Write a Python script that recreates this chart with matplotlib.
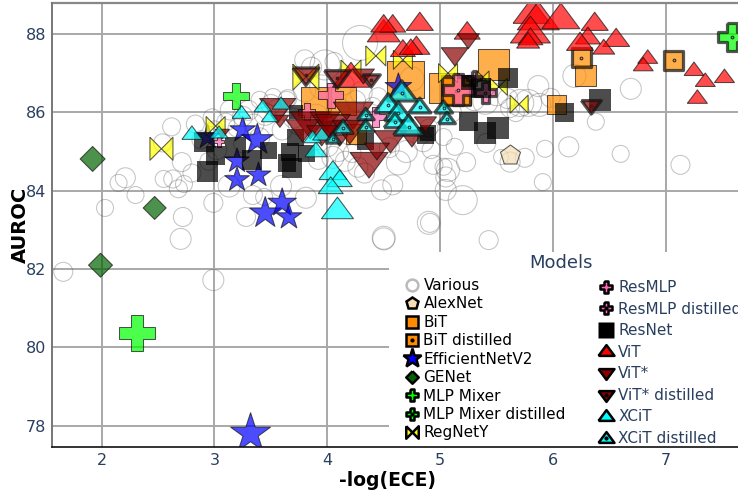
import matplotlib
matplotlib.use("Agg")
import matplotlib.pyplot as plt
from matplotlib.lines import Line2D
from matplotlib.legend_handler import HandlerTuple
from matplotlib.patches import Rectangle

# values: -log(ECE), AUROC, marker width
various_x = [2.03, 2.15, 2.21, 2.30, 2.62, 2.54, 2.55, 2.63, 2.68, 2.73, 2.71, 2.80, 2.83, 2.72, 2.70, 2.99, 3.28, 3.13, 3.34, 3.44,
             3.59, 3.81, 1.66, 2.99, 4.50, 4.29, 3.80, 3.98, 3.86, 4.06, 3.40, 3.52, 3.64, 3.14, 2.98, 2.88, 3.02, 2.95, 3.10, 3.25,
             5.87, 6.19, 6.69, 5.98, 5.88, 5.78, 5.71, 5.62, 5.67, 6.38, 5.40, 5.41, 5.93, 6.14, 6.60, 7.13, 5.91, 5.54, 5.75, 5.62,
             5.23, 4.94, 5.03, 5.07, 5.05, 5.13, 5.03, 4.92, 4.63, 4.48, 4.58, 5.05, 5.20, 4.90, 4.91, 4.50, 5.43,
             4.05, 4.16, 4.27, 4.33, 4.00, 4.10, 4.22, 3.92, 3.30, 3.45, 3.70, 3.55, 3.20, 3.35, 3.60, 3.75, 3.90, 4.10, 4.25, 4.40,
             4.55, 4.70, 4.85, 3.50, 3.65, 3.80, 3.95, 4.15, 4.30, 4.45, 4.75, 4.90, 5.10, 5.30, 5.50, 5.60, 3.25, 3.40, 3.00]
various_y = [83.56, 84.20, 84.33, 83.89, 85.63, 85.22, 84.30, 84.30, 84.05, 84.17, 84.73, 84.45, 85.70, 83.33, 82.77, 83.69, 83.33, 84.12, 83.89, 83.84,
             84.12, 83.82, 81.93, 81.72, 82.77, 87.77, 87.34, 87.21, 87.15, 87.30, 86.32, 86.39, 86.32, 86.06, 85.86, 85.30, 85.05, 84.75, 85.75, 85.90,
             86.67, 86.93, 86.60, 86.37, 86.19, 86.24, 86.24, 86.11, 85.98, 85.76, 86.27, 85.22, 85.07, 85.12, 84.94, 84.66, 84.22, 84.86, 84.84, 84.73,
             84.73, 84.66, 84.61, 84.53, 84.35, 85.12, 85.37, 85.05, 84.71, 84.02, 84.15, 84.02, 83.76, 83.18, 83.18, 82.80, 82.74,
             84.85, 84.75, 84.60, 84.45, 85.15, 85.00, 84.95, 84.80, 86.05, 85.95, 85.85, 86.10, 85.60, 85.70, 85.55, 85.70, 85.90, 86.10, 86.30, 86.15,
             85.10, 85.00, 85.25, 86.20, 86.35, 86.55, 86.65, 86.70, 86.50, 86.40, 86.85, 85.60, 86.00, 86.30, 86.45, 86.35, 85.20, 85.35, 85.55]
various_w = [17, 17, 20, 17, 18, 18, 17, 18, 18, 17, 19, 18, 18, 19, 21, 19, 19, 22, 19, 17,
             21, 21, 19, 21, 22, 35, 20, 30, 20, 18, 17, 17, 17, 20, 18, 18, 20, 18, 18, 20,
             21, 23, 21, 19, 23, 27, 27, 19, 17, 17, 25, 19, 17, 20, 17, 19, 17, 15, 19, 20,
             19, 19, 17, 23, 20, 17, 17, 18, 24, 20, 20, 21, 29, 23, 19, 23, 19,
             22, 20, 20, 20, 22, 20, 18, 20, 20, 22, 20, 18, 18, 20, 20, 22, 24, 22, 20, 18,
             20, 22, 20, 20, 18, 22, 24, 20, 22, 18, 24, 18, 20, 20, 22, 20, 18, 20, 18]

alexnet_x = [5.62]
alexnet_y = [84.91]
alexnet_w = [21]

bit_x = [5.47, 4.69, 5.03, 5.14, 6.03, 6.29, 3.90, 4.13, 4.25]
bit_y = [87.21, 86.83, 86.62, 86.57, 86.19, 86.95, 86.27, 86.30, 85.45]
bit_w = [31, 37, 30, 30, 19, 21, 30, 28, 20]

bit_dist_x = [6.25, 7.07, 5.14]
bit_dist_y = [87.39, 87.33, 86.55]
bit_dist_w = [19, 19, 28]

effnet_x = [3.25, 3.38, 3.20, 3.39, 3.20, 3.45, 3.60, 3.66, 2.94, 3.32, 4.63]
effnet_y = [85.55, 85.30, 84.76, 84.40, 84.28, 83.43, 83.69, 83.33, 85.37, 77.80, 86.65]
effnet_w = [27, 33, 26, 26, 26, 33, 30, 27, 26, 42, 28]

genet_x = [1.92, 2.47, 1.99]
genet_y = [84.81, 83.56, 82.10]
genet_w = [25, 23, 24]

mixer_x = [2.31, 3.19]
mixer_y = [80.37, 86.42]
mixer_w = [36, 26]

mixer_dist_x = [7.59]
mixer_dist_y = [87.91]
mixer_dist_w = [28]

regnet_x = [2.53, 3.01, 3.81, 4.21, 4.43, 4.67, 5.07, 5.38, 5.52, 5.70]
regnet_y = [85.07, 85.65, 86.90, 87.08, 87.44, 87.34, 87.00, 86.90, 86.65, 86.21]
regnet_w = [23, 19, 26, 20, 20, 19, 19, 12, 17, 18]

resmlp_x = [3.82, 4.03, 4.43, 3.04]
resmlp_y = [86.01, 86.44, 85.88, 85.25]
resmlp_w = [17, 25, 20, 10]

resmlp_dist_x = [5.16, 5.40, 5.30]
resmlp_dist_y = [86.57, 86.50, 86.88]
resmlp_dist_w = [31, 21, 14]

resnet_x = [5.60, 5.25, 5.40, 5.51, 6.42, 6.10, 5.36, 5.25, 4.87, 2.94, 2.91, 3.01, 3.19, 3.33, 3.48, 3.67, 3.69, 3.64, 3.72, 3.82, 4.34, 3.72, 4.89]
resnet_y = [86.88, 85.76, 85.48, 85.60, 86.32, 86.00, 86.62, 86.75, 85.42, 84.50, 85.25, 84.89, 85.09, 84.79, 85.02, 84.99, 84.58, 84.71, 85.35, 84.96, 85.25, 86.01, 85.47]
resnet_w = [20, 19, 22, 22, 22, 19, 20, 15, 17, 21, 20, 19, 21, 20, 17, 18, 20, 18, 17, 17, 17, 14, 16]

vit_x = [4.82, 4.50, 4.58, 4.50, 5.24, 5.81, 5.87, 6.07, 5.80, 5.80, 5.78, 6.37, 6.31, 6.24, 6.56, 6.45, 6.84, 6.80, 7.25, 7.35, 7.52, 7.28, 4.67, 4.79, 4.74, 4.21]
vit_y = [88.28, 88.03, 88.23, 88.23, 88.05, 88.53, 88.40, 88.40, 88.05, 87.90, 87.80, 88.28, 87.92, 87.77, 87.87, 87.64, 87.39, 87.20, 87.08, 86.80, 86.90, 86.37, 87.60, 87.67, 87.64, 86.90]
vit_w = [27, 33, 26, 26, 26, 37, 42, 38, 40, 25, 23, 27, 25, 27, 27, 22, 20, 20, 20, 20, 20, 20, 25, 27, 23, 37]

vitstar_x = [5.13, 5.25, 4.37, 4.56, 4.44, 4.75, 4.87, 4.11, 3.85, 4.02, 4.23, 3.98, 3.56, 3.58, 3.78, 3.07, 4.32, 4.05, 4.20, 3.95]
vitstar_y = [87.46, 87.85, 84.71, 85.30, 85.04, 85.37, 85.73, 85.30, 85.73, 85.60, 85.98, 85.80, 86.10, 85.80, 85.58, 85.47, 86.95, 85.70, 85.55, 85.45]
vitstar_w = [27, 22, 38, 33, 25, 25, 22, 16, 40, 25, 40, 30, 36, 18, 33, 14, 22, 35, 35, 30]

vitstar_dist_x = [6.34, 4.39, 3.81, 4.09]
vitstar_dist_y = [86.16, 86.83, 86.95, 86.88]
vitstar_dist_w = [20, 18, 26, 26]

xcit_x = [2.80, 3.24, 3.04, 3.43, 3.59, 3.49, 3.90, 3.87, 3.95, 4.05, 4.11, 4.03, 4.09]
xcit_y = [85.45, 85.98, 85.47, 86.14, 86.21, 85.88, 85.02, 85.35, 85.42, 84.48, 84.28, 84.10, 83.51]
xcit_w = [20, 19, 18, 18, 18, 17, 22, 18, 18, 28, 25, 25, 32]

xcit_dist_x = [4.66, 4.54, 4.63, 4.82, 4.60, 4.72, 5.03, 5.06, 4.34, 4.34, 4.14, 4.05]
xcit_dist_y = [86.50, 86.19, 85.98, 86.14, 85.76, 85.63, 86.11, 85.83, 85.93, 85.63, 85.60, 85.32]
xcit_dist_w = [30, 28, 28, 22, 22, 30, 18, 17, 17, 17, 20, 15]

# marker shapes
tri_up = [(-1, -0.55), (1, -0.55), (0, 0.8), (-1, -0.55)]
tri_down = [(-1, 0.55), (1, 0.55), (0, -0.8), (-1, 0.55)]
diamond = [(0, 1), (1, 0), (0, -1), (-1, 0), (0, 1)]
cross = [(-1/3, 1), (1/3, 1), (1/3, 1/3), (1, 1/3), (1, -1/3), (1/3, -1/3), (1/3, -1),
         (-1/3, -1), (-1/3, -1/3), (-1, -1/3), (-1, 1/3), (-1/3, 1/3), (-1/3, 1)]
bowtie = [(-1, 1), (0, 0), (1, 1), (1, -1), (0, 0), (-1, -1), (-1, 1)]


def px_to_s(w):
    return [(v * 0.72) ** 2 for v in w]


# name, x, y, w, marker, colour, distilled
traces = [
    ("AlexNet", alexnet_x, alexnet_y, alexnet_w, "p", "#f5deb3", False),
    ("BiT", bit_x, bit_y, bit_w, "s", "#ff8c00", False),
    ("BiT distilled", bit_dist_x, bit_dist_y, bit_dist_w, "s", "#ff8c00", True),
    ("EfficientNetV2", effnet_x, effnet_y, effnet_w, "*", "#0000ff", False),
    ("GENet", genet_x, genet_y, genet_w, diamond, "#006400", False),
    ("MLP Mixer", mixer_x, mixer_y, mixer_w, cross, "#00ff00", False),
    ("MLP Mixer distilled", mixer_dist_x, mixer_dist_y, mixer_dist_w, cross, "#00ff00", True),
    ("RegNetY", regnet_x, regnet_y, regnet_w, bowtie, "#ffff00", False),
    ("ResMLP", resmlp_x, resmlp_y, resmlp_w, cross, "#ff69b4", False),
    ("ResMLP distilled", resmlp_dist_x, resmlp_dist_y, resmlp_dist_w, cross, "#ff69b4", True),
    ("ResNet", resnet_x, resnet_y, resnet_w, "s", "#000000", False),
    ("ViT", vit_x, vit_y, vit_w, tri_up, "#ff0000", False),
    ("ViT*", vitstar_x, vitstar_y, vitstar_w, tri_down, "#8b0000", False),
    ("ViT* distilled", vitstar_dist_x, vitstar_dist_y, vitstar_dist_w, tri_down, "#8b0000", True),
    ("XCiT", xcit_x, xcit_y, xcit_w, tri_up, "#00ffff", False),
    ("XCiT distilled", xcit_dist_x, xcit_dist_y, xcit_dist_w, tri_up, "#00ffff", True),
]

fig = plt.figure(figsize=(7.38, 4.92), dpi=100)
ax = fig.add_axes([52 / 738, 1 - 447 / 492, 686 / 738, 444 / 492])
ax.set_xlim(1.56, 7.64)
ax.set_ylim(77.46, 88.79)
ax.set_xticks([2, 3, 4, 5, 6, 7])
ax.set_yticks([78, 80, 82, 84, 86, 88])
ax.grid(True, color="#a8a8a8", linewidth=1.4)
ax.set_axisbelow(True)
ax.tick_params(length=0, labelsize=11.5, labelcolor="#2a3f5f", pad=4)
for s in ["top", "right"]:
    ax.spines[s].set_visible(False)
ax.spines["left"].set_color("#777777")
ax.spines["left"].set_linewidth(1.4)
ax.spines["bottom"].set_color("#111111")
ax.spines["bottom"].set_linewidth(1.2)
ax.spines["left"].set_zorder(30)
ax.spines["bottom"].set_zorder(30)
ax.plot([0, 1], [1, 1], transform=ax.transAxes, color="#888888", lw=1.6, zorder=30, clip_on=False)

ax.scatter(various_x, various_y, s=px_to_s(various_w), marker="o", facecolor="none",
           edgecolor=(0.35, 0.35, 0.35, 0.35), linewidth=0.75, zorder=2)

order = 3
for name, x, y, w, marker, colour, distilled in traces:
    edge = "none" if name == "ResNet" else "#111111"
    lw = 2.3 if distilled else 0.75
    ax.scatter(x, y, s=px_to_s(w), marker=marker, color=colour, edgecolor=edge,
               linewidth=lw, alpha=0.7, zorder=order)
    if distilled:
        ax.scatter(x, y, s=4, marker="o", color=colour, edgecolor="#222222", linewidth=0.7, zorder=order)
    order += 1

ax.set_xlabel("-log(ECE)", fontsize=13.5, fontweight="bold")
ax.set_ylabel("AUROC", fontsize=14, fontweight="bold")
ax.xaxis.set_label_coords((387 - 52) / 686, -(480 - 447) / 444, transform=ax.transAxes)
ax.xaxis.label.set_va("center")
ax.yaxis.set_label_coords(-(52 - 20) / 686, (447 - 225) / 444, transform=ax.transAxes)
ax.yaxis.label.set_va("center")

# white box behind the legend, on top of the marks
box_x0 = (389 - 52) / 686
box_y1 = (447 - 252) / 444
ax.add_patch(Rectangle((box_x0, 0), 1 - box_x0, box_y1, transform=ax.transAxes,
                       facecolor="white", edgecolor="none", zorder=25))


def legend_handle(name, marker, colour, distilled):
    edge = "none" if name == "ResNet" else "black"
    size = 9
    if marker == "*":
        size = 14
    elif marker is tri_up or marker is tri_down:
        size = 11.5
    elif name == "ResNet":
        size = 11
    h = Line2D([], [], linestyle="none", marker=marker, markerfacecolor=colour,
               markeredgecolor=edge, markeredgewidth=1.8, markersize=size)
    if distilled:
        dot = Line2D([], [], linestyle="none", marker="o", color="black", markersize=2)
        return (h, dot)
    return h


left_names = ["AlexNet", "BiT", "BiT distilled", "EfficientNetV2", "GENet", "MLP Mixer", "MLP Mixer distilled", "RegNetY"]
left = [Line2D([], [], linestyle="none", marker="o", markerfacecolor="white", markeredgecolor="#bbbbbb",
               markeredgewidth=1.8, markersize=8.5)]
left_labels = ["Various"]
right = []
right_labels = []
for name, x, y, w, marker, colour, distilled in traces:
    h = legend_handle(name, marker, colour, distilled)
    if name in left_names:
        left.append(h)
        left_labels.append(name)
    else:
        right.append(h)
        right_labels.append(name)

tuple_map = {tuple: HandlerTuple(ndivide=1, pad=0)}
leg1 = ax.legend(left, left_labels, handler_map=tuple_map, loc="upper left",
                 bbox_to_anchor=((402 - 52) / 686, (447 - 278) / 444),
                 frameon=False, fontsize=11, labelspacing=0.225, handletextpad=0.1, borderpad=0,
                 borderaxespad=0, handlelength=1.3)
leg1.set_zorder(26)
ax.add_artist(leg1)
leg2 = ax.legend(right, right_labels, handler_map=tuple_map, loc="upper left",
                 bbox_to_anchor=((596 - 52) / 686, (447 - 280) / 444),
                 frameon=False, fontsize=11, labelspacing=0.43, handletextpad=0.15, borderpad=0,
                 borderaxespad=0, handlelength=1.3, labelcolor="#2a3f5f")
leg2.set_zorder(26)
ax.text((561 - 52) / 686, (447 - 263) / 444, "Models", transform=ax.transAxes, fontsize=13,
        color="#2a3f5f", ha="center", va="center", zorder=27)

fig.savefig("out.png", dpi=100)
